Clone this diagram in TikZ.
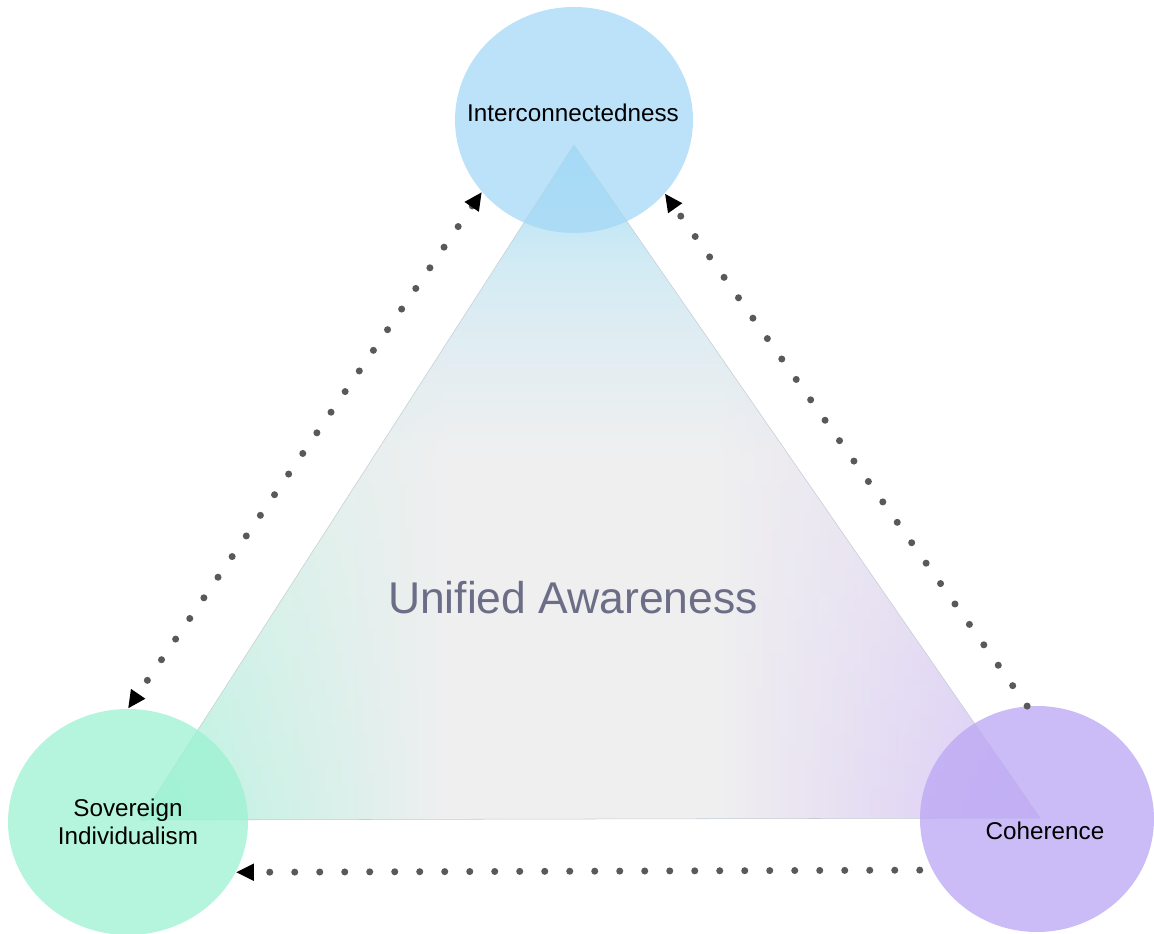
\documentclass[tikz,border=0pt]{standalone}
\usepackage{fontspec}
\setmainfont{Liberation Sans}
\usetikzlibrary{
    positioning,
    arrows.meta,
    shapes.geometric,
    fadings
}

\definecolor{apexblue}{HTML}{A9E1F8}
\definecolor{paleblue}{HTML}{CDEBF5}
\definecolor{glowmid}{HTML}{EFEFF0}
\definecolor{glowgreen}{HTML}{B6F4E0}
\definecolor{glowpurple}{HTML}{DAC8F8}
\definecolor{topblue}{HTML}{A4D8F6}
\definecolor{seagreen}{HTML}{9CF2D3}
\definecolor{lilac}{HTML}{BAA6F4}
\definecolor{dotgray}{HTML}{595959}
\definecolor{titlegray}{HTML}{6B6E86}
\definecolor{edgegray}{HTML}{C5CDD3}

% Shadings of the big triangle
\pgfdeclareverticalshading{apexglow}{100bp}{
    color(0bp)=(glowmid); color(25bp)=(glowmid); color(52bp)=(glowmid);
    color(66bp)=(paleblue); color(75bp)=(apexblue); color(100bp)=(apexblue)}
\pgfdeclarehorizontalshading{groundglow}{100bp}{
    color(0bp)=(glowgreen); color(25bp)=(glowgreen); color(42bp)=(glowmid);
    color(57bp)=(glowmid); color(75bp)=(glowpurple); color(100bp)=(glowpurple)}
\tikzfading[name=lowfade, top color=transparent!100, bottom color=transparent!0]

\tikzset{
    >={Triangle[length=3.6mm, width=3.2mm, color=black]},
    bubble/.style={
        ellipse,
        minimum width=47.6mm,
        minimum height=45.2mm,
        inner sep=0pt,
        fill opacity=0.75
    },
    tag/.style={
        font=\fontsize{13.8}{16}\selectfont,
        text=black,
        align=center
    },
    dotline/.style={
        draw=dotgray,
        line width=4pt,
        line cap=round,
        dash pattern=on 0pt off 5mm
    }
}

\begin{document}
\begin{tikzpicture}[x=0.2mm, y=-0.2mm]

    \useasboundingbox (0,0) rectangle (1154,934);

    % Triangle
    \coordinate (apex)  at (574,145);
    \coordinate (left)  at (140,820);
    \coordinate (right) at (1040,818);

    \shade[shading=apexglow] (apex) -- (left) -- (right) -- cycle;
    \shade[shading=groundglow, path fading=lowfade] (apex) -- (left) -- (right) -- cycle;
    \draw[edgegray, line width=0.3pt] (apex) -- (left) -- (right) -- cycle;

    % Circles
    \node[bubble, fill=topblue]                      (inter) at (574,120)  {};
    \node[bubble, fill=seagreen, minimum width=48mm] (sover) at (128,822)  {};
    \node[bubble, fill=lilac, minimum width=46.8mm]  (coher) at (1037,819) {};

    % Links
    \draw[dotline, <->] (inter.218) -- (sover.90);
    \draw[dotline, ->]  (coher.95)  -- (inter.321);
    \draw[dotline, ->, shorten <=2.5mm] (coher.206) -- (sover.335);

    % Labels
    \node[tag] (intertext) at (573,113)  {Interconnectedness};
    \node[tag] (sovertext) at (128,822)  {Sovereign\\Individualism};
    \node[tag] (cohertext) at (1045,831) {Coherence};
    \node[font=\fontsize{25.3}{30}\selectfont, text=titlegray] (unified) at (573,598) {Unified Awareness};

\end{tikzpicture}
\end{document}
